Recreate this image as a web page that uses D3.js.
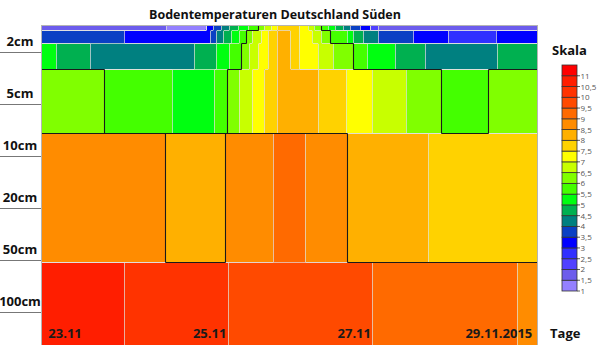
<!DOCTYPE html>
<html><head><meta charset="utf-8">
<script src="https://cdn.jsdelivr.net/npm/d3@7"></script>
<style>
html,body{margin:0;padding:0;background:#fff;}
svg{display:block;font-family:"Open Sans",sans-serif;}
</style></head><body>
<svg id="c" width="600" height="345"></svg>
<script>
// ---------- data ----------
const title = "Bodentemperaturen Deutschland Süden";
const depthLabels = ["2cm", "5cm", "10cm", "20cm", "50cm", "100cm"];
const depthTicks = [1, 2, 3, 4, 5, 6];
// layer boundaries on the depth-category axis
const layerEdges = [0.48, 0.58, 0.83, 1.33, 2.56, 5.04, 7];
const dayLabels = ["23.11", "25.11", "27.11", "29.11.2015"];
const dayLabelHours = [8, 56, 104, 152];   // hours since 23.11 00:00
const hoursSpan = [0, 165];
const levels = [1, 1.5, 2, 2.5, 3, 3.5, 4, 4.5, 5, 5.5, 6, 6.5, 7, 7.5, 8, 8.5, 9, 9.5, 10, 10.5, 11];
const levelLabels = ["1", "1,5", "2", "2,5", "3", "3,5", "4", "4,5", "5", "5,5", "6", "6,5", "7", "7,5", "8", "8,5", "9", "9,5", "10", "10,5", "11"];
const levelColors = ["#9480ff", "#6c5cec", "#5040ff", "#3030ff", "#0000ff", "#0a40c4", "#008080", "#00b050",
  "#00ff10", "#44ff00", "#80ff00", "#c8ff00", "#ffff00", "#ffd200", "#ffb000", "#ff8c00", "#ff6a00",
  "#ff4a00", "#ff3300", "#ff1e00", "#ff0000"];
const blackLevels = [6, 8.5];

// temperature runs per layer: [start hour, °C]
const layerSurface = [[0, 1.75], [41.4, 1.25], [54.7, 3.25], [57.0, 3.75], [59.6, 4.25], [62.3, 4.75], [65.3, 5.25],
  [68.6, 5.75], [72.2, 6.25], [74.2, 6.75], [76.2, 7.25], [78.5, 7.75], [85.5, 7.25], [88.8, 6.75], [90.5, 6.25],
  [92.8, 5.75], [95.4, 5.25], [97.7, 4.75], [100.1, 4.25], [102.7, 3.75], [106.0, 3.25], [109.3, 2.25], [112.0, 1.75]];
const layerUpper = [[0, 3.75], [27.5, 3.25], [56.0, 3.75], [58.0, 4.25], [60.3, 4.75], [63.0, 5.25], [65.6, 5.75],
  [67.9, 6.25], [70.2, 6.75], [72.9, 7.25], [75.5, 7.75], [78.5, 8.25], [82.8, 7.75], [85.5, 7.25], [90.1, 6.75],
  [92.8, 6.25], [96.1, 5.75], [101.7, 5.25], [103.7, 4.75], [107.0, 4.25], [112.0, 3.75], [123.6, 3.25],
  [135.2, 2.75], [151.1, 3.25]];
const layer2cm = [[0, 5.25], [5.0, 4.75], [16.2, 4.25], [50.7, 4.75], [58.0, 5.25], [62.3, 5.75], [66.3, 6.25],
  [68.9, 6.75], [72.2, 7.25], [75.5, 7.75], [78.5, 8.25], [82.8, 7.75], [85.5, 7.25], [92.1, 6.75], [96.8, 6.25],
  [103.7, 5.75], [108.3, 5.25], [117.6, 4.75], [127.6, 4.25], [151.4, 4.75]];
const layer5cm = [[0, 6.25], [20.9, 5.75], [43.4, 5.25], [57.3, 5.75], [61.6, 6.25], [65.9, 6.75], [70.2, 7.25],
  [73.9, 7.75], [78.5, 8.25], [91.8, 7.75], [101.1, 7.25], [110.0, 6.75], [121.3, 6.25], [132.9, 5.75], [148.4, 6.25]];
const layer10to50cm = [[0, 8.75], [41.1, 8.25], [61.0, 8.75], [76.9, 9.25], [87.8, 8.75], [101.7, 8.25], [128.6, 7.75]];
const layer100cm = [[0, 10.75], [27.5, 10.25], [62.0, 9.75], [110.0, 9.25], [158.0, 8.75]];
const layers = [layerSurface, layerUpper, layer2cm, layer5cm, layer10to50cm, layer100cm];

// ---------- drawing ----------
const svg = d3.select("#c");
const x = d3.scaleLinear().domain(hoursSpan).range([41, 538]);
const y = d3.scaleLinear().domain([layerEdges[0], layerEdges[layerEdges.length - 1]]).range([25, 364]);
const color = d3.scaleThreshold().domain(levels.slice(1)).range(levelColors);

const bis = d3.bisector(d => d[0]).right;
function valueAt(layer, h) {
  const i = bis(layer, h) - 1;
  return layer[Math.max(0, i)][1];
}

// sample grid (1px cells), padded beyond the plot area
const gx0 = 37, gy0 = 21, n = 506, m = 330;
const grid = new Float64Array(n * m);
const colVals = [];
for (let i = 0; i < n; i++) {
  const h = Math.max(hoursSpan[0], Math.min(hoursSpan[1], x.invert(gx0 + i + 0.5)));
  colVals.push(layers.map(L => valueAt(L, h)));
}
for (let j = 0; j < m; j++) {
  const u = y.invert(gy0 + j + 0.5);
  const k = Math.max(0, Math.min(layers.length - 1, d3.bisectRight(layerEdges, u) - 1));
  for (let i = 0; i < n; i++) grid[j * n + i] = colVals[i][k];
}
const contours = d3.contours().size([n, m]).smooth(false).thresholds(levels)(grid);
const path = d3.geoPath();

const defs = svg.append("defs");
defs.append("clipPath").attr("id", "clip").append("rect")
  .attr("x", x.range()[0]).attr("y", y.range()[0])
  .attr("width", x.range()[1] - x.range()[0]).attr("height", y.range()[1] - y.range()[0]);

const plot = svg.append("g").attr("clip-path", "url(#clip)");
plot.append("g").attr("transform", `translate(${gx0},${gy0})`)
  .selectAll("path").data(contours.filter(c => c.coordinates.length)).join("path")
  .attr("d", path).attr("fill", d => color(d.value)).attr("stroke", "none");

const lineG = plot.append("g").attr("transform", `translate(${gx0 + 0.5},${gy0 + 0.5})`);
lineG.selectAll("path.light").data(contours.filter(c => c.coordinates.length && !blackLevels.includes(c.value)))
  .join("path").attr("class", "light").attr("d", path).attr("fill", "none")
  .attr("stroke", "rgba(225,225,225,0.7)").attr("stroke-width", 1);
lineG.selectAll("path.dark").data(contours.filter(c => c.coordinates.length && blackLevels.includes(c.value)))
  .join("path").attr("class", "dark").attr("d", path).attr("fill", "none")
  .attr("stroke", "#1a1a1a").attr("stroke-width", 1.1);

// plot border
svg.append("rect")
  .attr("x", x.range()[0] + 0.5).attr("y", y.range()[0] + 0.5)
  .attr("width", x.range()[1] - x.range()[0] - 1).attr("height", y.range()[1] - y.range()[0])
  .attr("fill", "none").attr("stroke", "#b4b4b4").attr("stroke-width", 1);

// title
svg.append("text").attr("x", 275).attr("y", 19).attr("text-anchor", "middle")
  .attr("font-size", 12.5).attr("font-weight", 700).attr("fill", "#111").text(title);

// depth axis
const dAx = svg.append("g");
depthTicks.forEach((t, i) => {
  const yy = Math.round(y(t)) + 0.5;
  dAx.append("line").attr("x1", 0).attr("x2", x.range()[0]).attr("y1", yy).attr("y2", yy)
    .attr("stroke", "#777").attr("stroke-width", 1);
  dAx.append("text").attr("x", 20).attr("y", y(t) - 6).attr("text-anchor", "middle")
    .attr("font-size", 13).attr("font-weight", 700).attr("fill", "#111").text(depthLabels[i]);
});

// day labels
dayLabelHours.forEach((h, i) => {
  svg.append("text").attr("x", x(h)).attr("y", 338).attr("text-anchor", "middle")
    .attr("font-size", 13).attr("font-weight", 700).attr("fill", "#1a1a1a").text(dayLabels[i]);
});
svg.append("text").attr("x", 550).attr("y", 338)
  .attr("font-size", 13).attr("font-weight", 700).attr("fill", "#111").text("Tage");

// legend
svg.append("text").attr("x", 552).attr("y", 55)
  .attr("font-size", 13).attr("font-weight", 700).attr("fill", "#111").text("Skala");
const ly = d3.scaleLinear().domain([levels[0], levels[levels.length - 1] + 0.5]).range([291, 65]);
const lg = svg.append("g");
lg.selectAll("rect").data(levels).join("rect")
  .attr("x", 562).attr("width", 15)
  .attr("y", d => ly(d + 0.5)).attr("height", d => ly(d) - ly(d + 0.5))
  .attr("fill", d => color(d)).attr("stroke", "#333").attr("stroke-width", 0.8);
lg.selectAll("line").data(levels).join("line")
  .attr("x1", 577).attr("x2", 580).attr("y1", d => ly(d)).attr("y2", d => ly(d))
  .attr("stroke", "#333").attr("stroke-width", 0.8);
lg.selectAll("text").data(levels).join("text")
  .attr("x", 580.5).attr("y", d => ly(d) + 3)
  .attr("font-size", 8).attr("fill", "#555").text((d, i) => levelLabels[i]);
</script>
</body></html>
